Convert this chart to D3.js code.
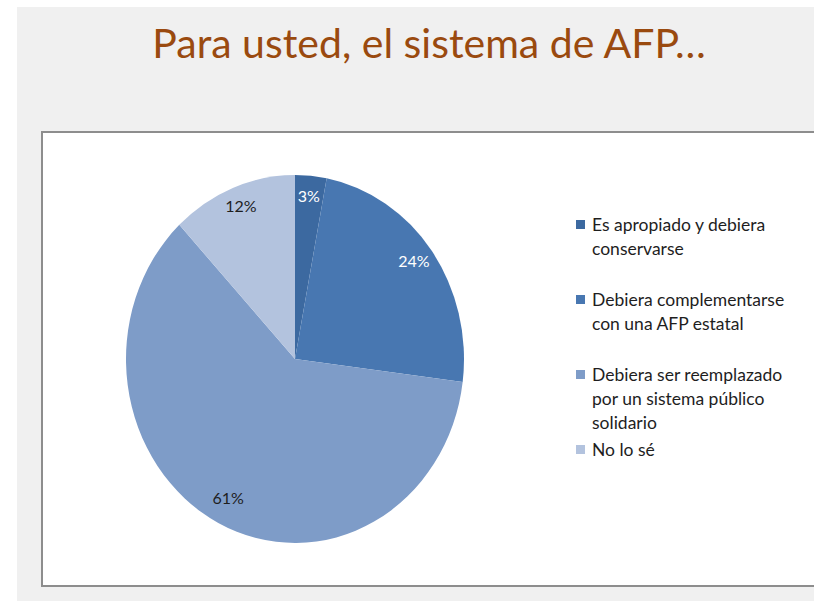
<!DOCTYPE html>
<html>
<head>
<meta charset="utf-8">
<script src="https://cdn.jsdelivr.net/npm/d3@7"></script>
<style>
  body { margin: 0; background: #fff; }
  svg text { font-family: "Lato", "Open Sans", sans-serif; }
</style>
</head>
<body>
<div id="chart"></div>
<script>
"use strict";
const title = 'Para usted, el sistema de AFP…';
const categories = [
    'Es apropiado y debiera\nconservarse',
    'Debiera complementarse\ncon una AFP estatal',
    'Debiera ser reemplazado\npor un sistema público\nsolidario',
    'No lo sé'
];
const values = [3, 24, 61, 12];
const colors = ['#3c69a0', '#4877b1', '#7e9cc8', '#b3c3de'];
const labelColors = ['#ffffff', '#ffffff', '#1e1e1e', '#1e1e1e'];

const width = 814;
const height = 601;

const svg = d3.select('#chart').append('svg')
    .attr('width', width)
    .attr('height', height);

// slide background
svg.append('rect')
    .attr('x', 17).attr('y', 7)
    .attr('width', width - 17).attr('height', height - 7)
    .attr('fill', '#f0f0f0');

svg.append('text')
    .attr('x', 429)
    .attr('y', 58)
    .attr('text-anchor', 'middle')
    .attr('font-size', 41)
    .attr('fill', '#9a4a0f')
    .text(title);

// chart frame
svg.append('rect')
    .attr('x', 42).attr('y', 132)
    .attr('width', 800).attr('height', 454)
    .attr('fill', '#ffffff')
    .attr('stroke', '#8d8d8d')
    .attr('stroke-width', 2);

// pie (slightly stretched vertically like the picture)
const rx = 169;
const ry = 184;
const pie = d3.pie().sort(null).value(d => d);
const arcs = pie(values);
const arc = d3.arc().innerRadius(0).outerRadius(rx);
const labelArc = d3.arc().innerRadius(rx * 0.87).outerRadius(rx * 0.87);

const g = svg.append('g')
    .attr('transform', `translate(295,359) scale(1,${ry / rx})`);
g.selectAll('path')
    .data(arcs)
    .enter().append('path')
    .attr('d', arc)
    .attr('fill', (d, i) => colors[i]);

const lg = svg.append('g').attr('transform', 'translate(295,359)');
lg.selectAll('text')
    .data(arcs)
    .enter().append('text')
    .attr('x', d => labelArc.centroid(d)[0])
    .attr('y', d => labelArc.centroid(d)[1] * ry / rx + 2)
    .attr('text-anchor', 'middle')
    .attr('font-size', 16)
    .attr('fill', (d, i) => labelColors[i])
    .text(d => d.data + '%');

// legend
const legend = svg.append('g').attr('transform', 'translate(576,225)');
const item = legend.selectAll('g')
    .data(categories)
    .enter().append('g')
    .attr('transform', (d, i) => `translate(0,${i * 75})`);
item.append('rect')
    .attr('x', 0).attr('y', -5)
    .attr('width', 9).attr('height', 9)
    .attr('fill', (d, i) => colors[i]);
item.append('text')
    .attr('font-size', 17.5)
    .attr('fill', '#1e1e1e')
    .selectAll('tspan')
    .data(d => d.split('\n'))
    .enter().append('tspan')
    .attr('x', 16)
    .attr('y', (d, j) => 6 + j * 24)
    .text(d => d);
</script>
</body>
</html>
